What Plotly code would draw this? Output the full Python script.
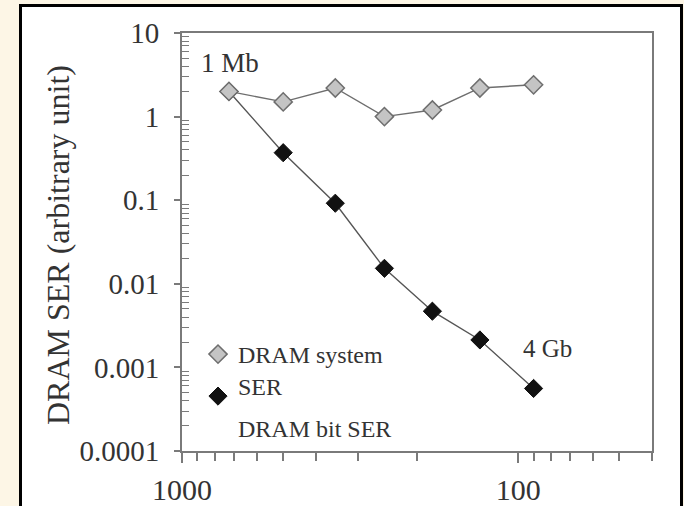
import plotly.graph_objects as go

# Data
feature_size = [725, 500, 350, 250, 180, 130, 90]
system_ser = [2.0, 1.5, 2.2, 1.0, 1.2, 2.2, 2.4]
bit_ser = [2.0, 0.37, 0.092, 0.0153, 0.0047, 0.00213, 0.00056]

y_tickvals = [10, 1, 0.1, 0.01, 0.001, 0.0001]
y_ticktext = ["10", "1", "0.1", "0.01", "0.001", "0.0001"]
x_tickvals = [1000, 100]
x_ticktext = ["1000", "100"]

FONT = "Liberation Serif, Times New Roman, serif"
TXT = "#333333"
AX = "#7a7a7a"

x_minor = [d * 10 ** k for k in (1, 2) for d in range(2, 10)]
y_minor = [d * 10.0 ** k for k in range(-4, 1) for d in range(2, 10)]

# plot area in px
L, R, T, B = 182, 652, 33, 451
W, H = 684, 506
pw, ph = R - L, B - T


def px_x(x):
    return (x - L) / pw


def px_y(y):
    return (B - y) / ph


fig = go.Figure()

# lines
fig.add_trace(go.Scatter(x=feature_size, y=bit_ser, mode="lines",
                         line=dict(color="#555555", width=1.4),
                         showlegend=False, hoverinfo="skip"))
fig.add_trace(go.Scatter(x=feature_size, y=system_ser, mode="lines",
                         line=dict(color="#6e6e6e", width=1.4),
                         showlegend=False, hoverinfo="skip"))
# markers
fig.add_trace(go.Scatter(x=feature_size, y=bit_ser, mode="markers",
                         name="<br>DRAM bit SER",
                         marker=dict(symbol="diamond", size=14, color="#111111",
                                     line=dict(color="#111111", width=1)),
                         legend="legend2"))
fig.add_trace(go.Scatter(x=feature_size, y=system_ser, mode="markers",
                         name="DRAM system<br>SER",
                         marker=dict(symbol="diamond", size=14, color="#c4c4c4",
                                     line=dict(color="#6e6e6e", width=1.5)),
                         legend="legend"))

fig.update_layout(
    width=W, height=H,
    margin=dict(l=L, r=W - R, t=T, b=H - B, pad=0, autoexpand=False),
    paper_bgcolor="#fdf6e6",
    plot_bgcolor="white",
    font=dict(family=FONT, color=TXT),
    showlegend=True,
    legend=dict(x=px_x(198), y=px_y(332), xanchor="left", yanchor="top",
                bgcolor="rgba(0,0,0,0)", valign="top",
                font=dict(family=FONT, size=24, color=TXT)),
    legend2=dict(x=px_x(198), y=px_y(374), xanchor="left", yanchor="top",
                 bgcolor="rgba(0,0,0,0)", valign="top",
                 font=dict(family=FONT, size=24, color=TXT)),
    xaxis=dict(type="log", range=[3, 1.60206], showgrid=False, zeroline=False,
               automargin=False,
               showline=True, linecolor=AX, linewidth=2, mirror=True,
               tickmode="array", tickvals=x_tickvals, ticktext=x_ticktext,
               ticks="outside", ticklen=10, tickwidth=1.5, tickcolor=AX,
               ticklabelstandoff=1,
               tickfont=dict(family=FONT, size=30, color=TXT),
               minor=dict(tickmode="array", tickvals=x_minor, ticks="outside",
                          ticklen=8, tickwidth=1.5, tickcolor=AX, showgrid=False)),
    yaxis=dict(type="log", range=[-4, 1], showgrid=False, zeroline=False,
               automargin=False,
               showline=True, linecolor=AX, linewidth=2, mirror=True,
               tickmode="array", tickvals=y_tickvals, ticktext=y_ticktext,
               ticks="outside", ticklen=6, tickwidth=1.5, tickcolor=AX,
               ticklabelstandoff=9,
               tickfont=dict(family=FONT, size=29, color=TXT),
               minor=dict(tickmode="array", tickvals=y_minor, ticks="inside",
                          ticklen=7, tickwidth=1.2, tickcolor=AX, showgrid=False)),
    shapes=[dict(type="rect", xref="paper", yref="paper",
                 x0=px_x(20.5), x1=px_x(681.5), y0=px_y(520), y1=px_y(5.5),
                 line=dict(color="black", width=3), fillcolor="white",
                 layer="below")],
    annotations=[
        dict(text="DRAM SER (arbitrary unit)", xref="paper", yref="paper",
             x=px_x(58), y=px_y(245), textangle=-90, showarrow=False,
             xanchor="center", yanchor="middle",
             font=dict(family=FONT, size=32, color=TXT)),
        dict(text="1 Mb", xref="paper", yref="paper", x=px_x(230), y=px_y(63),
             showarrow=False, xanchor="center", yanchor="middle",
             font=dict(family=FONT, size=27, color=TXT)),
        dict(text="4 Gb", xref="paper", yref="paper", x=px_x(547), y=px_y(348),
             showarrow=False, xanchor="center", yanchor="middle",
             font=dict(family=FONT, size=25, color=TXT)),
    ],
)

fig.write_html("out.html")
